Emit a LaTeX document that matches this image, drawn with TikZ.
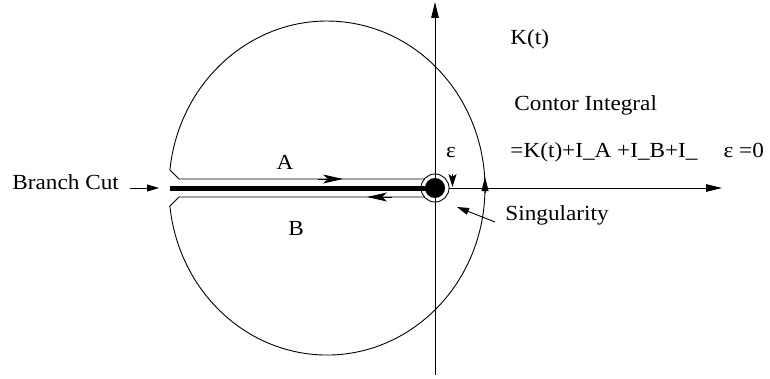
\documentclass[tikz,border=0pt]{standalone}
\usepackage{fontspec}
\setmainfont{Liberation Serif}[FakeStretch=1.08]
\usetikzlibrary{arrows.meta}
\begin{document}
\begin{tikzpicture}[x=1pt,y=1pt,line width=0.9pt,
  lbl/.style={inner sep=0pt,font=\fontsize{21.5}{26}\selectfont},
  axhead/.style={-{Triangle[length=16pt,width=7.5pt]}},
  flowhead/.style={-{Stealth[length=20pt,width=9pt,inset=5pt]}},
  smallhead/.style={-{Triangle[length=12pt,width=7pt]}}]
\useasboundingbox (0,0) rectangle (770,378);
% coordinates
\coordinate (O) at (435,190);
\coordinate (vb) at (435,3);
\coordinate (vt) at (435,376);
\coordinate (hs) at (449,190);
\coordinate (he) at (722,190);
\coordinate (cutL) at (170,190);
% axes
\draw[axhead] (vb) -- (vt);
\draw[axhead] (hs) -- (he);
% branch cut
\draw[line width=5pt] (cutL) -- (O);
\fill (O) circle[radius=10];
\draw (O) circle[radius=14];
% keyhole contour
\draw (424.3,199) -- (179,199) -- (169.9,208)
  arc[start angle=173.8,end angle=-173.8,x radius=158,y radius=167]
  -- (179,181) -- (424.3,181);
% flow arrows
\draw[flowhead] (318,199) -- (343,199);
\draw[flowhead] (392,181) -- (367,181);
\draw[-{Triangle[length=14pt,width=7pt]}] (485,185) -- (485,201);
\coordinate (raS) at (452.5,204);
\coordinate (raE) at (452.5,191);
\draw[-{Stealth[length=13pt,width=8pt,inset=3pt]}] (raS) -- (raE);
% pointer arrows
\coordinate (bcA) at (130,190);
\coordinate (bcB) at (159,190);
\draw[smallhead] (bcA) -- (bcB);
\coordinate (sgA) at (495,156);
\coordinate (sgB) at (457,171);
\draw[smallhead] (sgA) -- (sgB);
% labels
\node[lbl,anchor=base west] (bc) at (12,189) {Branch Cut};
\node[lbl,anchor=base] (la) at (285,209) {A};
\node[lbl,anchor=base] (lb) at (296,143) {B};
\node[lbl,anchor=base] (eps) at (451,220) {ε};
\node[lbl,anchor=base west] (kt) at (510,333) {K(t)};
\node[lbl,anchor=base west] (ci) at (514,267) {Contor Integral};
\node[lbl,anchor=base west] (fm) at (510,220) {=K(t)+I\_A +I\_B+I\_\hspace{26pt}ε =0};
\node[lbl,anchor=base west] (sg) at (505,158) {Singularity};
\end{tikzpicture}
\end{document}
